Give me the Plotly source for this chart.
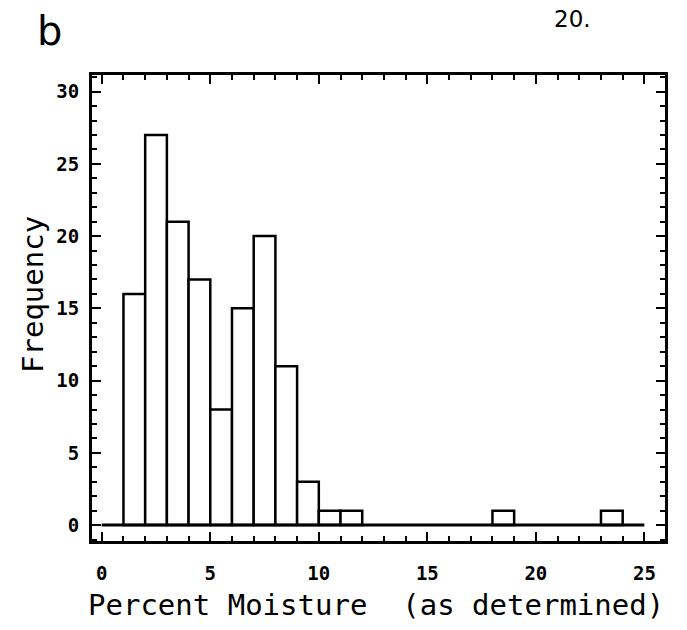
import plotly.graph_objects as go

# Histogram data: left bin edges (bin width 1) and counts
bin_left = [1, 2, 3, 4, 5, 6, 7, 8, 9, 10, 11, 18, 23]
counts = [16, 27, 21, 17, 8, 15, 20, 11, 3, 1, 1, 1, 1]
bin_width = 1
baseline_x = [0, 25]
baseline_y = [0, 0]

x_ticks = [0, 5, 10, 15, 20, 25]
y_ticks = [0, 5, 10, 15, 20, 25, 30]

centers = [b + bin_width / 2 for b in bin_left]

fig = go.Figure()
fig.add_trace(go.Scatter(x=baseline_x, y=baseline_y, mode="lines",
                         line=dict(color="black", width=3), showlegend=False,
                         hoverinfo="skip"))
fig.add_trace(go.Bar(x=centers, y=counts, width=bin_width,
                     marker=dict(color="white", line=dict(color="black", width=2.5)),
                     showlegend=False))

tickfont = dict(family="DejaVu Sans Mono", size=19, color="black", weight="bold")
fig.update_layout(
    width=687, height=630,
    margin=dict(l=92, r=22, t=75, b=89),
    plot_bgcolor="white", paper_bgcolor="white",
    font=dict(family="DejaVu Sans Mono", color="black"),
    xaxis=dict(range=[-0.45, 25.95], tickvals=x_ticks, showgrid=False, zeroline=False,
               showline=True, linecolor="black", linewidth=3, mirror="allticks",
               ticks="inside", ticklen=9, tickwidth=2, tickcolor="black",
               minor=dict(dtick=1, tick0=0, ticks="inside", ticklen=5, tickwidth=2, tickcolor="black"),
               tickfont=tickfont, ticklabelstandoff=13),
    yaxis=dict(range=[-1.1, 31.15], tickvals=y_ticks, showgrid=False, zeroline=False,
               showline=True, linecolor="black", linewidth=3, mirror="allticks",
               ticks="inside", ticklen=9, tickwidth=2, tickcolor="black",
               minor=dict(dtick=1, tick0=0, ticks="inside", ticklen=5, tickwidth=2, tickcolor="black"),
               tickfont=tickfont, ticklabelstandoff=6),
    annotations=[
        dict(text="Percent Moisture\u00a0 (as determined)", x=0.5, y=605, xref="paper", yref="paper",
             showarrow=False, font=dict(family="DejaVu Sans Mono", size=29, color="black")),
        dict(text="Frequency", textangle=-90, xref="paper", yref="paper", x=0, y=0.5,
             showarrow=False, font=dict(family="DejaVu Sans Mono", size=29, color="black")),
        dict(text="b", xref="paper", yref="paper", x=0, y=1, showarrow=False,
             font=dict(family="DejaVu Sans", size=40, color="black")),
        dict(text="20.", xref="paper", yref="paper", x=1, y=1, showarrow=False,
             font=dict(family="DejaVu Sans", size=23, color="black")),
    ],
)

# position annotations in pixels via paper coordinates
plot_w = 687 - 92 - 22
plot_h = 630 - 75 - 89
def px_to_paper(px, py):
    return (px - 92) / plot_w, (630 - 89 - py) / plot_h

anns = list(fig.layout.annotations)
positions = [(376, 605), (33, 295), (49, 31), (572, 19)]
new = []
for a, (px, py) in zip(anns, positions):
    xx, yy = px_to_paper(px, py)
    a.update(x=xx, y=yy, xanchor="center", yanchor="middle")
    new.append(a)
fig.update_layout(annotations=new)

fig.write_html("out.html")
